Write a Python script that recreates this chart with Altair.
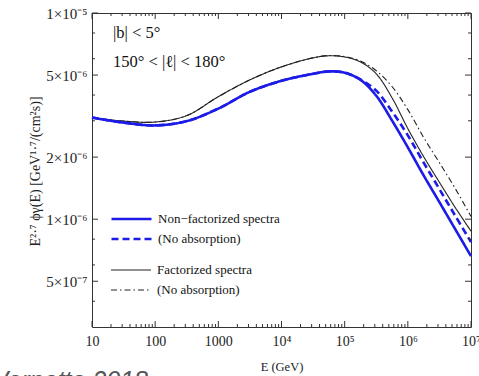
import altair as alt
import pandas as pd

# ---- data ----
energy = [10, 31.6, 100, 316, 1000, 3162, 1.0e4, 3.16e4, 5.62e4, 1.0e5,
          1.78e5, 3.16e5, 5.62e5, 1.0e6, 1.78e6, 3.16e6, 5.62e6, 1.0e7]
nonfact = [3.11e-6, 2.94e-6, 2.85e-6, 2.99e-6, 3.44e-6, 4.15e-6, 4.69e-6, 5.07e-6, 5.21e-6,
           5.13e-6, 4.74e-6, 3.97e-6, 3.01e-6, 2.23e-6, 1.63e-6, 1.21e-6, 8.95e-7, 6.62e-7]
nonfact_noabs = [3.11e-6, 2.94e-6, 2.85e-6, 2.99e-6, 3.44e-6, 4.15e-6, 4.69e-6, 5.07e-6, 5.21e-6,
                 5.14e-6, 4.76e-6, 4.20e-6, 3.33e-6, 2.55e-6, 1.88e-6, 1.40e-6, 1.04e-6, 7.74e-7]
fact = [3.11e-6, 2.99e-6, 2.96e-6, 3.18e-6, 3.93e-6, 4.74e-6, 5.48e-6, 6.06e-6, 6.20e-6,
        6.12e-6, 5.79e-6, 5.07e-6, 3.88e-6, 2.75e-6, 2.01e-6, 1.51e-6, 1.14e-6, 8.75e-7]
fact_noabs = [3.11e-6, 2.99e-6, 2.96e-6, 3.18e-6, 3.93e-6, 4.74e-6, 5.48e-6, 6.06e-6, 6.22e-6,
              6.15e-6, 5.85e-6, 5.25e-6, 4.40e-6, 3.40e-6, 2.49e-6, 1.88e-6, 1.41e-6, 1.03e-6]

blue_names = ["Non\u2212factorized spectra", "(No absorption)"]
black_names = ["Factorized spectra", " (No absorption)"]

x_major = [10, 100, 1000, 1e4, 1e5, 1e6, 1e7]
x_major_labels = ["10", "100", "1000", "10\u2074", "10\u2075", "10\u2076", "10\u2077"]
x_minor = [m * 10 ** d for d in range(1, 7) for m in range(2, 10)]
y_major = [1e-5, 5e-6, 2e-6, 1e-6, 5e-7]
y_major_labels = ["1\u00d710\u207b\u2075", "5\u00d710\u207b\u2076", "2\u00d710\u207b\u2076",
                  "1\u00d710\u207b\u2076", "5\u00d710\u207b\u2077"]
y_minor = [8e-6, 6e-6, 4e-6, 3e-6, 8e-7, 6e-7, 4e-7]

annot_1 = "|b| < 5\u00b0"
annot_2 = "150\u00b0 < |\u2113| < 180\u00b0"
credit = "Vernetto 2018"

# ---- build tables ----
df_blue = pd.concat([
    pd.DataFrame({"E": energy, "flux": nonfact, "series": blue_names[0]}),
    pd.DataFrame({"E": energy, "flux": nonfact_noabs, "series": blue_names[1]}),
])
df_black = pd.concat([
    pd.DataFrame({"E": energy, "flux": fact, "series": black_names[0]}),
    pd.DataFrame({"E": energy, "flux": fact_noabs, "series": black_names[1]}),
])


def label_expr(values, labels):
    pairs = sorted(zip(values, labels))
    parts = [f"datum.value < {v * 1.05!r} ? '{l}'" for v, l in pairs]
    return " : ".join(parts) + " : ''"


W, H = 379, 314
FONT = "Liberation Serif"

xscale = alt.Scale(type="log", domain=[10, 1e7], nice=False)
yscale = alt.Scale(type="log", domain=[3e-7, 1e-5], nice=False)

xaxis = alt.Axis(values=x_major, labelExpr=label_expr(x_major, x_major_labels),
                 title="E (GeV)", labelPadding=7, labelFontSize=14,
                 titleFontSize=12.5, titleY=39, titleBaseline="middle", labelFlush=False)
yaxis = alt.Axis(values=y_major, labelExpr=label_expr(y_major, y_major_labels),
                 title="E\u00b2\u00b7\u2077 \u03d5\u03b3(E)    [GeV\u00b9\u00b7\u2077/(cm\u00b2s)]",
                 labelPadding=5, labelFontSize=15, titleFontSize=14,
                 titleX=-57, titleY=H / 2 + 1, titleAngle=270, titleAlign="center",
                 titleBaseline="middle", labelFlush=False)

X = alt.X("E:Q", scale=xscale, axis=xaxis)
Y = alt.Y("flux:Q", scale=yscale, axis=yaxis)


def legend(y0, sw):
    return alt.Legend(title=None, orient="none", legendX=18, legendY=y0,
                      symbolType="stroke", symbolSize=1600, symbolStrokeWidth=sw,
                      clipHeight=20, rowPadding=0, padding=0, labelOffset=5,
                      labelFont=FONT, labelFontSize=13, labelColor="#111")


blue = "#1c1ce6"
blue_layer = alt.Chart(df_blue).mark_line(interpolate="catmull-rom", strokeWidth=2.6).encode(
    x=X, y=Y,
    color=alt.Color("series:N", scale=alt.Scale(domain=blue_names, range=[blue, blue]),
                    legend=legend(196, 2.6)),
    strokeDash=alt.StrokeDash("series:N", scale=alt.Scale(domain=blue_names, range=[[1, 0], [7, 4]]),
                              legend=legend(196, 2.6)),
)
black_layer = alt.Chart(df_black).mark_line(interpolate="catmull-rom", strokeWidth=1.1).encode(
    x=X, y=Y,
    color=alt.Color("series:N", scale=alt.Scale(domain=black_names, range=["#222", "#222"]),
                    legend=legend(247, 1.1)),
    strokeDash=alt.StrokeDash("series:N",
                              scale=alt.Scale(domain=black_names, range=[[1, 0], [6, 3, 1.5, 3]]),
                              legend=legend(247, 1.1)),
)

tick_color = "#333"
XT = alt.X("v:Q", scale=xscale, axis=xaxis)
YT = alt.Y("v:Q", scale=yscale, axis=yaxis)
df_xmaj = pd.DataFrame({"v": x_major})
df_xmin = pd.DataFrame({"v": x_minor})
df_ymaj = pd.DataFrame({"v": y_major})
df_ymin = pd.DataFrame({"v": y_minor})

ticks = [
    alt.Chart(df_xmaj).mark_rule(color=tick_color).encode(x=XT, y=alt.value(H), y2=alt.value(H - 6)),
    alt.Chart(df_xmaj).mark_rule(color=tick_color).encode(x=XT, y=alt.value(0), y2=alt.value(6)),
    alt.Chart(df_xmin).mark_rule(color=tick_color).encode(x=XT, y=alt.value(H), y2=alt.value(H - 3)),
    alt.Chart(df_xmin).mark_rule(color=tick_color).encode(x=XT, y=alt.value(0), y2=alt.value(3)),
    alt.Chart(df_ymaj).mark_rule(color=tick_color).encode(y=YT, x=alt.value(0), x2=alt.value(6)),
    alt.Chart(df_ymaj).mark_rule(color=tick_color).encode(y=YT, x=alt.value(W), x2=alt.value(W - 6)),
    alt.Chart(df_ymin).mark_rule(color=tick_color).encode(y=YT, x=alt.value(0), x2=alt.value(3)),
    alt.Chart(df_ymin).mark_rule(color=tick_color).encode(y=YT, x=alt.value(W), x2=alt.value(W - 3)),
]

one = pd.DataFrame({"a": [0]})
texts = [
    alt.Chart(one).mark_text(font=FONT, fontSize=16.5, align="left", baseline="middle", color="#111")
    .encode(x=alt.value(21), y=alt.value(20), text=alt.value(annot_1)),
    alt.Chart(one).mark_text(font=FONT, fontSize=16.5, align="left", baseline="middle", color="#111")
    .encode(x=alt.value(21), y=alt.value(49), text=alt.value(annot_2)),
    alt.Chart(one).mark_text(font="Liberation Sans", fontSize=25, fontStyle="italic", align="right",
                             baseline="alphabetic", color="#555")
    .encode(x=alt.value(56), y=alt.value(376), text=alt.value(credit)),
]

chart = alt.layer(black_layer, blue_layer, *ticks, *texts).resolve_scale(
    color="independent", strokeDash="independent"
).properties(
    width=W, height=H,
    autosize=alt.AutoSizeParams(type="none"),
    padding={"left": 92, "top": 13, "right": 8, "bottom": 49},
).configure_axis(
    labelFont=FONT, titleFont=FONT, grid=False, ticks=False, domain=False,
    labelColor="#222", titleColor="#222", titleFontWeight="normal",
).configure_view(stroke="#333", strokeWidth=1)

chart.save("out.html", embed_options={"renderer": "svg", "actions": False})
